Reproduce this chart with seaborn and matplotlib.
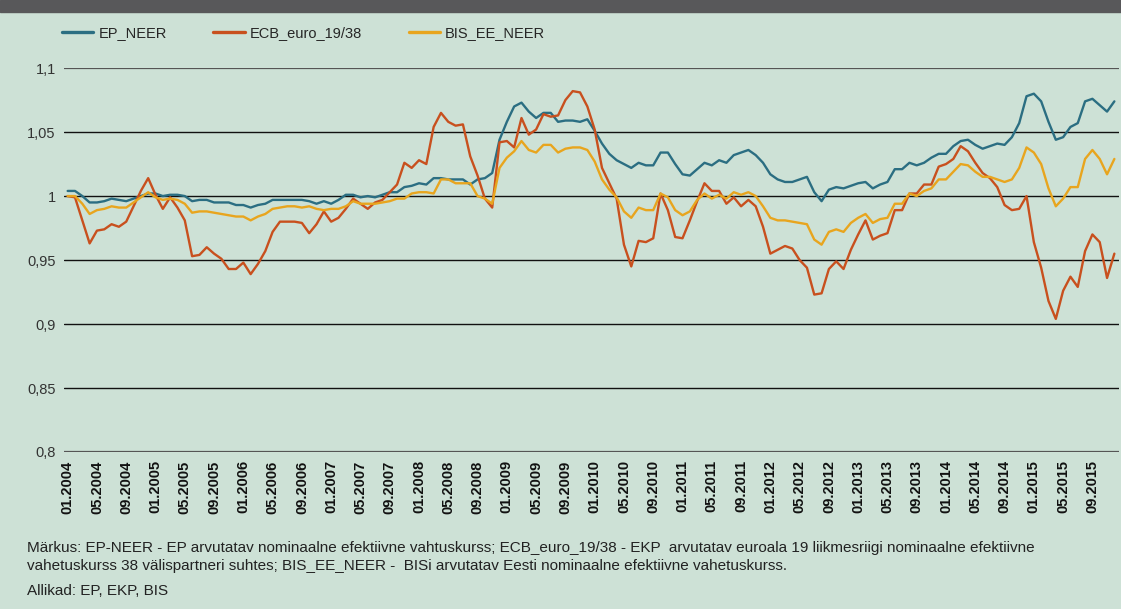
import numpy as np
import pandas as pd
import matplotlib
matplotlib.use("Agg")
import matplotlib.pyplot as plt
import seaborn as sns

# monthly index, 01.2004 ... 12.2015
months = pd.period_range("2004-01", "2015-12", freq="M")
month_labels = [p.strftime("%m.%Y") for p in months]

ep_neer = [
    1.004, 1.004, 1.000, 0.995, 0.995, 0.996, 0.998, 0.997, 0.996, 0.998,
    1.000, 1.002, 1.002, 1.000, 1.001, 1.001, 1.000, 0.996, 0.997, 0.997,
    0.995, 0.995, 0.995, 0.993, 0.993, 0.991, 0.993, 0.994, 0.997, 0.997,
    0.997, 0.997, 0.997, 0.996, 0.994, 0.996, 0.994, 0.997, 1.001, 1.001,
    0.999, 1.000, 0.999, 1.001, 1.003, 1.003, 1.007, 1.008, 1.010, 1.009,
    1.014, 1.014, 1.013, 1.013, 1.013, 1.009, 1.013, 1.014, 1.018, 1.044,
    1.058, 1.070, 1.073, 1.066, 1.061, 1.065, 1.065, 1.058, 1.059, 1.059,
    1.058, 1.060, 1.051, 1.041, 1.033, 1.028, 1.025, 1.022, 1.026, 1.024,
    1.024, 1.034, 1.034, 1.025, 1.017, 1.016, 1.021, 1.026, 1.024, 1.028,
    1.026, 1.032, 1.034, 1.036, 1.032, 1.026, 1.017, 1.013, 1.011, 1.011,
    1.013, 1.015, 1.003, 0.996, 1.005, 1.007, 1.006, 1.008, 1.010, 1.011,
    1.006, 1.009, 1.011, 1.021, 1.021, 1.026, 1.024, 1.026, 1.030, 1.033,
    1.033, 1.039, 1.043, 1.044, 1.040, 1.037, 1.039, 1.041, 1.040, 1.046,
    1.057, 1.078, 1.080, 1.074, 1.058, 1.044, 1.046, 1.054, 1.057, 1.074,
    1.076, 1.071, 1.066, 1.074,
]

ecb_euro = [
    1.000, 0.999, 0.981, 0.963, 0.973, 0.974, 0.978, 0.976, 0.980, 0.992,
    1.004, 1.014, 1.001, 0.990, 0.999, 0.991, 0.981, 0.953, 0.954, 0.960,
    0.955, 0.951, 0.943, 0.943, 0.948, 0.939, 0.947, 0.957, 0.972, 0.980,
    0.980, 0.980, 0.979, 0.971, 0.978, 0.988, 0.980, 0.983, 0.990, 0.998,
    0.994, 0.990, 0.995, 0.997, 1.003, 1.009, 1.026, 1.022, 1.028, 1.025,
    1.054, 1.065, 1.058, 1.055, 1.056, 1.031, 1.016, 0.998, 0.991, 1.042,
    1.043, 1.038, 1.061, 1.048, 1.052, 1.064, 1.062, 1.063, 1.075, 1.082,
    1.081, 1.070, 1.052, 1.022, 1.010, 0.998, 0.962, 0.945, 0.965, 0.964,
    0.967, 1.002, 0.989, 0.968, 0.967, 0.981, 0.996, 1.010, 1.004, 1.004,
    0.994, 0.999, 0.992, 0.997, 0.992, 0.976, 0.955, 0.958, 0.961, 0.959,
    0.950, 0.944, 0.923, 0.924, 0.943, 0.949, 0.943, 0.958, 0.970, 0.981,
    0.966, 0.969, 0.971, 0.989, 0.989, 1.002, 1.002, 1.009, 1.009, 1.023,
    1.025, 1.029, 1.039, 1.035, 1.026, 1.018, 1.014, 1.007, 0.993, 0.989,
    0.990, 1.000, 0.964, 0.944, 0.918, 0.904, 0.926, 0.937, 0.929, 0.957,
    0.970, 0.964, 0.936, 0.955,
]

bis_ee_neer = [
    1.000, 1.000, 0.994, 0.986, 0.989, 0.990, 0.992, 0.991, 0.991, 0.995,
    0.999, 1.003, 0.999, 0.997, 0.998, 0.997, 0.994, 0.987, 0.988, 0.988,
    0.987, 0.986, 0.985, 0.984, 0.984, 0.981, 0.984, 0.986, 0.990, 0.991,
    0.992, 0.992, 0.991, 0.992, 0.990, 0.989, 0.990, 0.990, 0.992, 0.996,
    0.994, 0.994, 0.994, 0.995, 0.996, 0.998, 0.998, 1.002, 1.003, 1.003,
    1.002, 1.013, 1.013, 1.010, 1.010, 1.010, 1.000, 0.998, 0.994, 1.022,
    1.030, 1.035, 1.043, 1.036, 1.034, 1.040, 1.040, 1.034, 1.037, 1.038,
    1.038, 1.036, 1.027, 1.013, 1.005, 0.999, 0.988, 0.983, 0.991, 0.989,
    0.989, 1.002, 0.999, 0.989, 0.985, 0.988, 0.997, 1.002, 0.998, 1.001,
    0.998, 1.003, 1.001, 1.003, 1.000, 0.992, 0.983, 0.981, 0.981, 0.980,
    0.979, 0.978, 0.966, 0.962, 0.972, 0.974, 0.972, 0.979, 0.983, 0.986,
    0.979, 0.982, 0.983, 0.994, 0.994, 1.002, 1.000, 1.004, 1.006, 1.013,
    1.013, 1.019, 1.025, 1.024, 1.019, 1.015, 1.015, 1.013, 1.011, 1.013,
    1.022, 1.038, 1.034, 1.025, 1.006, 0.992, 0.998, 1.007, 1.007, 1.029,
    1.036, 1.029, 1.017, 1.029,
]

series_names = ["EP_NEER", "ECB_euro_19/38", "BIS_EE_NEER"]
ytick_values = [0.8, 0.85, 0.9, 0.95, 1.0, 1.05, 1.1]
ytick_labels = ["0,8", "0,85", "0,9", "0,95", "1", "1,05", "1,1"]

note_lines = [
    "Märkus: EP-NEER - EP arvutatav nominaalne efektiivne vahtuskurss; ECB_euro_19/38 - EKP  arvutatav euroala 19 liikmesriigi nominaalne efektiivne",
    "vahetuskurss 38 välispartneri suhtes; BIS_EE_NEER -  BISi arvutatav Eesti nominaalne efektiivne vahetuskurss.",
]
source_line = "Allikad: EP, EKP, BIS"

# long format for seaborn
idx = np.arange(len(months))
df = pd.DataFrame({"x": idx, "EP_NEER": ep_neer, "ECB_euro_19/38": ecb_euro,
                   "BIS_EE_NEER": bis_ee_neer})
df = df.melt(id_vars="x", var_name="series", value_name="value")

bg = "#cde1d6"
palette = {"EP_NEER": "#2b6e82", "ECB_euro_19/38": "#c8501e", "BIS_EE_NEER": "#e8a51e"}

sns.set_style("white", {"axes.facecolor": bg, "figure.facecolor": bg})
plt.rcParams["font.family"] = ["Liberation Sans", "DejaVu Sans"]

fig = plt.figure(figsize=(11.21, 6.09), dpi=100)
ax = fig.add_axes([0.0571, 0.2578, 0.9409, 0.6304])

# grid lines behind the data
for v in ytick_values:
    edge = v in (0.8, 1.1)
    ax.axhline(v, color="#555555" if edge else "#111111",
               lw=1.6 if edge else 1.0, zorder=1)

sns.lineplot(data=df, x="x", y="value", hue="series", hue_order=series_names,
             palette=palette, linewidth=1.7, ax=ax, legend=False, zorder=3)

ax.set_xlim(-0.5, 143.6)
ax.set_ylim(0.8, 1.1)
ax.set_xlabel("")
ax.set_ylabel("")
for s in ax.spines.values():
    s.set_visible(False)

ax.set_yticks(ytick_values)
ax.set_yticklabels(ytick_labels, fontsize=10.5, color="#333333")
ax.tick_params(axis="y", length=0, pad=6)

ax.set_xticks(idx[::4])
ax.set_xticklabels(month_labels[::4], rotation=90, fontsize=10.5,
                   fontweight="bold", color="#111111")
ax.set_xticks(idx, minor=True)
ax.tick_params(axis="x", which="both", direction="out", length=4,
               width=1, color="#333333", pad=2)

# legend across the top
handles = [plt.Line2D([], [], color=palette[n], lw=2.4) for n in series_names]
fig.legend(handles, series_names, loc="center left", bbox_to_anchor=(0.0435, 0.946),
           ncol=3, frameon=False, fontsize=10.5, handlelength=2.15,
           handletextpad=0.35, columnspacing=3.2)

# dark band at the top
fig.patches.append(plt.Rectangle((0, 1 - 12 / 609), 1, 12 / 609,
                                 transform=fig.transFigure, color="#58585a"))

fig.text(27 / 1121, 1 - 548 / 609, note_lines[0], fontsize=11, color="#222222", va="center")
fig.text(27 / 1121, 1 - 566 / 609, note_lines[1], fontsize=11, color="#222222", va="center")
fig.text(27 / 1121, 1 - 591 / 609, source_line, fontsize=11, color="#222222", va="center")

fig.savefig("out.png", dpi=100, facecolor=bg)
